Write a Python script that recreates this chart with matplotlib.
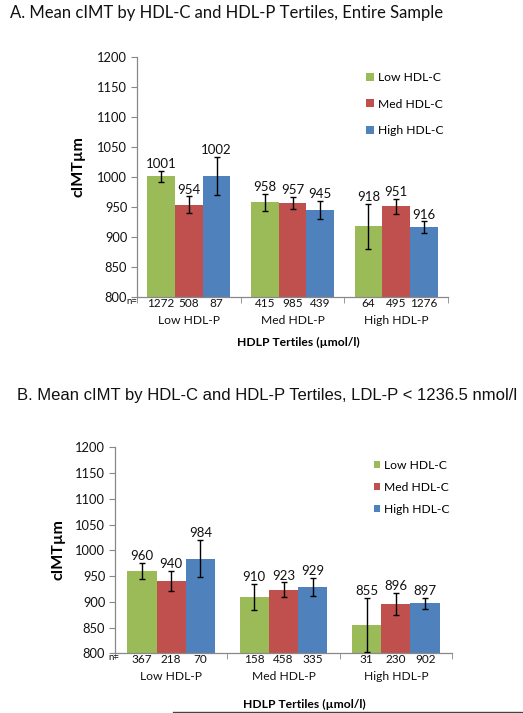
import numpy as np
import matplotlib
matplotlib.use('Agg')
import matplotlib.pyplot as plt
from matplotlib.patches import Patch
from matplotlib.lines import Line2D
from matplotlib import transforms

plt.rcParams['font.family'] = ['Lato', 'DejaVu Sans']

categories = ['Low HDL-P', 'Med HDL-P', 'High HDL-P']
series = ['Low HDL-C', 'Med HDL-C', 'High HDL-C']
colors = ['#9BBB59', '#C0504D', '#4F81BD']

# panel A: entire sample  (rows = HDL-C tertile, cols = HDL-P tertile)
mean_a = [[1001, 958, 918],
          [954, 957, 951],
          [1002, 945, 916]]
err_a = [[9.5, 14.5, 37.5],
         [14, 10, 13],
         [32, 15, 10]]
n_a = [[1272, 415, 64],
       [508, 985, 495],
       [87, 439, 1276]]

# panel B: LDL-P < 1236.5 nmol/l
mean_b = [[960, 910, 855],
          [940, 923, 896],
          [984, 929, 897]]
err_b = [[16, 25, 53],
         [20, 14.5, 21],
         [36, 17, 11]]
n_b = [[367, 158, 31],
       [218, 458, 230],
       [70, 335, 902]]

yticks = np.arange(800, 1201, 50)

W, H = 523, 713
fig = plt.figure(figsize=(W / 100, H / 100), dpi=100)


def px_axes(left, right, top, bottom):
    return fig.add_axes([left / W, 1 - bottom / H, (right - left) / W, (bottom - top) / H])


def draw_panel(ax, means, errs, ns, bw, ylab_xy, xlab_xy, leg_xy, leg_hl, leg_sp, nlab_dx, cat_pad):
    x = np.arange(len(categories))
    for i, s in enumerate(series):
        xs = x + (i - 1) * bw
        ax.bar(xs, means[i], width=bw, color=colors[i], label=s, zorder=2)
        ax.errorbar(xs, means[i], yerr=errs[i], fmt='none', ecolor='black',
                    elinewidth=1.0, capsize=2.5, capthick=1.0, zorder=3)
        for xi, m, e in zip(xs, means[i], errs[i]):
            ax.annotate(str(m), (xi, m + e), xytext=(0, 0.5), textcoords='offset points',
                        ha='center', va='bottom', fontsize=9.5, color='#111111')
        trans = transforms.blended_transform_factory(ax.transData, ax.transAxes)
        for xi, n in zip(xs, ns[i]):
            ax.annotate(str(n), (xi, 0), xycoords=trans, xytext=(0, -4.5),
                        textcoords='offset points', ha='center', va='center',
                        fontsize=8.5, color='#111111')
    ax.annotate('n=', (0, 0), xycoords='axes fraction', xytext=(nlab_dx, -3),
                textcoords='offset points', ha='right', va='center', fontsize=7,
                color='#111111')

    ax.set_xlim(-0.5, 2.5)
    ax.set_ylim(800, 1200)
    ax.set_yticks(yticks)
    ax.set_xticks(x)
    ax.set_xticklabels(categories, fontsize=8.7, color='#111111')
    ax.set_xticks([-0.5, 0.5, 1.5, 2.5], minor=True)
    ax.tick_params(axis='x', which='major', length=0, pad=cat_pad)
    ax.tick_params(axis='x', which='minor', length=4, color='#888888', direction='out')
    ax.tick_params(axis='y', length=4, color='#888888', labelsize=9.3, labelcolor='#111111', pad=3)
    for side in ['top', 'right']:
        ax.spines[side].set_visible(False)
    for side in ['left', 'bottom']:
        ax.spines[side].set_color('#888888')
        ax.spines[side].set_linewidth(0.9)

    ax.set_ylabel('cIMTµm', fontsize=11.5, fontweight='bold')
    ax.yaxis.set_label_coords(*ylab_xy)
    ax.set_xlabel('HDLP Tertiles (µmol/l)', fontsize=8.7, fontweight='bold')
    ax.xaxis.set_label_coords(*xlab_xy)

    handles = [Patch(facecolor=c, edgecolor='none') for c in colors]
    ax.legend(handles, series, loc='center left', bbox_to_anchor=leg_xy, frameon=False,
              fontsize=8.7, handlelength=leg_hl, handleheight=leg_hl, handletextpad=0.3,
              labelspacing=leg_sp, borderpad=0, borderaxespad=0)


ax_a = px_axes(137, 448, 57, 297)
draw_panel(ax_a, mean_a, err_a, n_a, 0.267,
           ylab_xy=(-0.167, 0.542), xlab_xy=(0.518, -0.165),
           leg_xy=(0.737, 0.804), leg_hl=0.65, leg_sp=1.3, nlab_dx=0, cat_pad=13)

ax_b = px_axes(115, 452, 447.3, 653.3)
draw_panel(ax_b, mean_b, err_b, n_b, 0.261,
           ylab_xy=(-0.148, 0.506), xlab_xy=(0.561, -0.22),
           leg_xy=(0.77, 0.806), leg_hl=0.45, leg_sp=0.9, nlab_dx=3, cat_pad=13)

fig.text(10 / W, 1 - 13 / H, 'A. Mean cIMT by HDL-C and HDL-P Tertiles, Entire Sample',
         fontsize=12, ha='left', va='center', color='#111111')
fig.text(17 / W, 1 - 395.7 / H, 'B. Mean cIMT by HDL-C and HDL-P Tertiles, LDL-P < 1236.5 nmol/l',
         fontsize=12, ha='left', va='center', color='#111111', family='Liberation Sans')
fig.add_artist(Line2D([173 / W, 1], [1 - 711.7 / H] * 2, color='#444444', linewidth=1))

fig.savefig('out.png', dpi=100)
